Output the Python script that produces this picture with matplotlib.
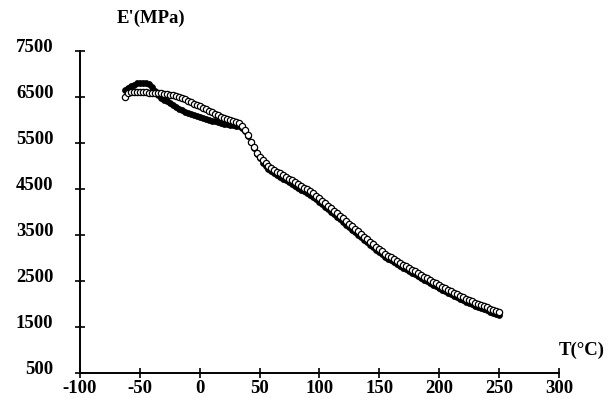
import matplotlib.pyplot as plt
import matplotlib.transforms as mtransforms

# Sıcaklık ekseni (°C)
T = [-62.5, -60, -57.5, -55, -52.5, -50, -47.5, -45, -42.5, -40,
     -37.5, -35, -32.5, -30, -27.5, -25, -22.5, -20, -17.5, -15,
     -12.5, -10, -7.5, -5, -2.5, 0, 2.5, 5, 7.5, 10,
     12.5, 15, 17.5, 20, 22.5, 25, 27.5, 30, 32.5, 35,
     37.5, 40, 42.5, 45, 47.5, 50, 52.5, 55, 57.5, 60,
     62.5, 65, 67.5, 70, 72.5, 75, 77.5, 80, 82.5, 85,
     87.5, 90, 92.5, 95, 97.5, 100, 102.5, 105, 107.5, 110,
     112.5, 115, 117.5, 120, 122.5, 125, 127.5, 130, 132.5, 135,
     137.5, 140, 142.5, 145, 147.5, 150, 152.5, 155, 157.5, 160,
     162.5, 165, 167.5, 170, 172.5, 175, 177.5, 180, 182.5, 185,
     187.5, 190, 192.5, 195, 197.5, 200, 202.5, 205, 207.5, 210,
     212.5, 215, 217.5, 220, 222.5, 225, 227.5, 230, 232.5, 235,
     237.5, 240, 242.5, 245, 247.5, 250]

# Açık daireler (E', MPa)
E_acik = [6500, 6580, 6600, 6600, 6600, 6600, 6600, 6595, 6590, 6590,
          6585, 6580, 6575, 6565, 6555, 6545, 6530, 6520, 6505, 6480,
          6450, 6415, 6380, 6350, 6320, 6290, 6260, 6225, 6190, 6160,
          6130, 6095, 6065, 6040, 6015, 5995, 5975, 5960, 5930, 5870,
          5780, 5660, 5520, 5400, 5290, 5200, 5120, 5055, 5000, 4955,
          4915, 4877, 4840, 4800, 4762, 4724, 4686, 4648, 4608, 4568,
          4528, 4488, 4448, 4408, 4355, 4300, 4245, 4190, 4135, 4080,
          4025, 3970, 3915, 3858, 3800, 3745, 3690, 3630, 3575, 3520,
          3460, 3405, 3350, 3295, 3240, 3185, 3140, 3095, 3050, 3010,
          2970, 2930, 2890, 2853, 2816, 2779, 2742, 2705, 2668, 2631,
          2594, 2557, 2520, 2483, 2448, 2413, 2378, 2343, 2308, 2273,
          2240, 2207, 2175, 2143, 2112, 2082, 2053, 2025, 1998, 1972,
          1947, 1922, 1898, 1875, 1852, 1820]

# Dolu noktalar (E', MPa)
E_dolu = [6640, 6700, 6730, 6760, 6790, 6800, 6810, 6800, 6770, 6710,
          6620, 6540, 6485, 6440, 6400, 6360, 6320, 6280, 6240, 6205,
          6175, 6150, 6125, 6105, 6085, 6065, 6045, 6025, 6005, 5985,
          5965, 5945, 5930, 5915, 5900, 5890, 5880, 5870, 5860, 5830,
          5760, 5650, 5510, 5380, 5260, 5160, 5070, 5000, 4940, 4890,
          4845, 4805, 4765, 4725, 4685, 4645, 4605, 4565, 4525, 4485,
          4445, 4405, 4365, 4325, 4275, 4220, 4165, 4110, 4055, 4000,
          3945, 3890, 3835, 3780, 3725, 3670, 3615, 3560, 3505, 3450,
          3395, 3340, 3285, 3230, 3175, 3120, 3075, 3030, 2985, 2945,
          2905, 2865, 2825, 2788, 2751, 2714, 2677, 2640, 2603, 2566,
          2529, 2492, 2455, 2418, 2383, 2348, 2313, 2278, 2243, 2208,
          2175, 2142, 2110, 2078, 2047, 2017, 1988, 1960, 1933, 1907,
          1882, 1857, 1833, 1810, 1787, 1750]

x_ticks = [-100, -50, 0, 50, 100, 150, 200, 250, 300]
y_ticks = [500, 1500, 2500, 3500, 4500, 5500, 6500, 7500]

plt.rcParams['font.family'] = ['Liberation Serif', 'DejaVu Serif']
plt.rcParams['font.weight'] = 'bold'
plt.rcParams['axes.unicode_minus'] = False  # düz tire kullan

fig = plt.figure(figsize=(6.09, 4.13), dpi=100)
ax = fig.add_axes([0.131, 0.097, 0.787, 0.780])

ax.plot(T, E_dolu, linestyle='none', marker='o', markersize=4.2,
        markerfacecolor='black', markeredgecolor='black', markeredgewidth=0.6)
ax.plot(T, E_acik, linestyle='none', marker='o', markersize=4.5,
        markerfacecolor='white', markeredgecolor='black', markeredgewidth=0.9)

ax.set_xlim(-100, 300)
ax.set_ylim(500, 7500)
ax.set_xticks(x_ticks)
ax.set_yticks(y_ticks)
ax.spines['top'].set_visible(False)
ax.spines['right'].set_visible(False)
ax.spines['left'].set_linewidth(1.4)
ax.spines['bottom'].set_linewidth(1.4)
ax.tick_params(direction='inout', length=7, width=1.2, labelsize=13.5)
ax.tick_params(axis='y', pad=15.5)
ax.tick_params(axis='x', pad=1.5)

# y etiketleri referansta biraz yukarıda duruyor
kaydir = mtransforms.ScaledTranslation(0, 4 / 72, fig.dpi_scale_trans)
for lbl in ax.get_yticklabels():
    lbl.set_transform(lbl.get_transform() + kaydir)

for lbl in ax.get_xticklabels() + ax.get_yticklabels():
    lbl.set_fontweight('bold')

fig.text(0.248, 0.955, "E'(MPa)", fontsize=13.5, fontweight='bold',
         ha='center', va='center')
fig.text(0.955, 0.152, "T(°C)", fontsize=13.5, fontweight='bold',
         ha='center', va='center')

fig.savefig('out.png', dpi=100)
